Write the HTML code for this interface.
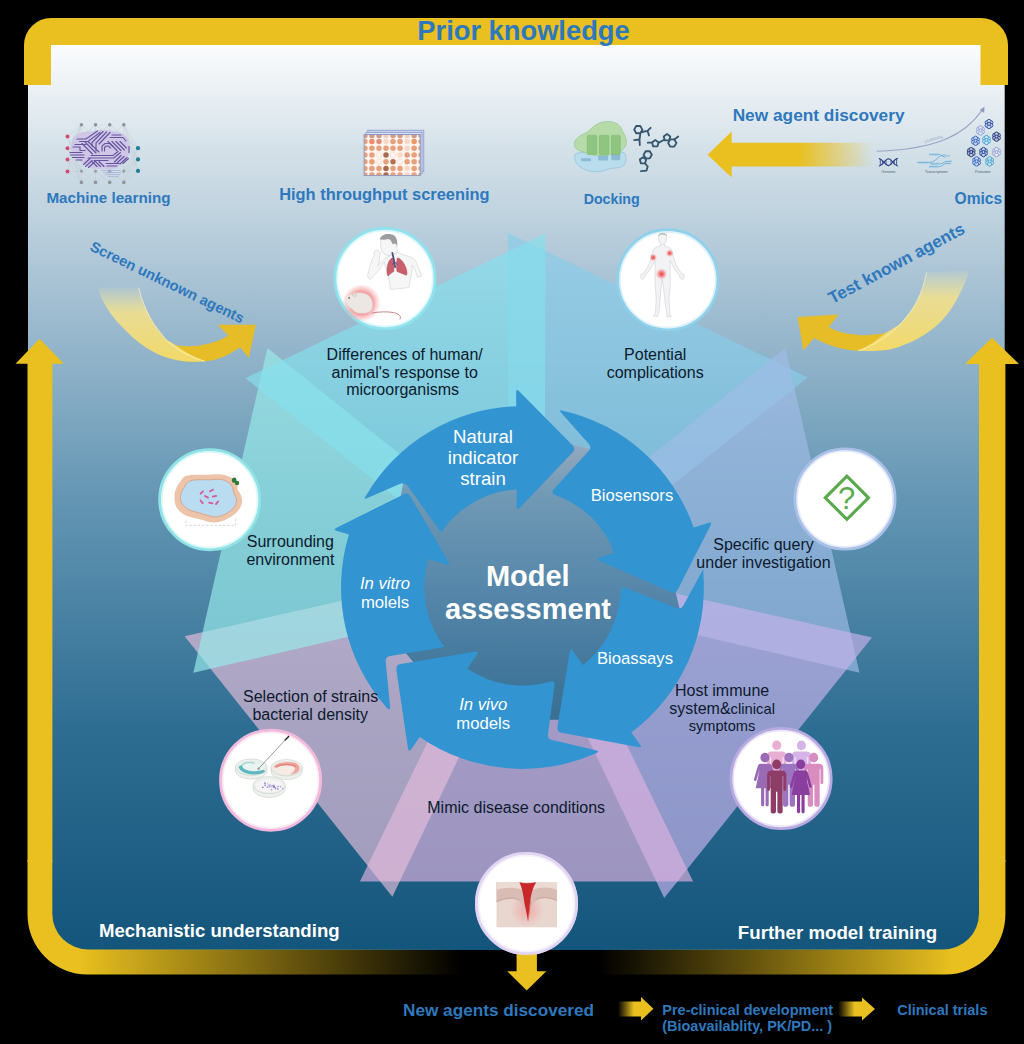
<!DOCTYPE html>
<html><head><meta charset="utf-8"><title>Model assessment</title>
<style>
html,body{margin:0;padding:0;background:#000;}
body{width:1024px;height:1044px;overflow:hidden;}
svg{display:block;}
text{font-family:"Liberation Sans",sans-serif;}
.b{font-weight:bold;}
.i{font-style:italic;}
.blue{fill:#2e78bd;}
.k{fill:#0c1a2c;}
.w{fill:#ffffff;}
</style></head><body>
<svg width="1024" height="1044" viewBox="0 0 1024 1044">
<defs>
<linearGradient id="gPanel" x1="0" y1="45" x2="0" y2="950" gradientUnits="userSpaceOnUse">
<stop offset="0" stop-color="#fbfcfd"/>
<stop offset="0.12" stop-color="#d3e0e8"/>
<stop offset="0.28" stop-color="#a3bfd2"/>
<stop offset="0.5" stop-color="#6496b4"/>
<stop offset="0.75" stop-color="#2f6e93"/>
<stop offset="1" stop-color="#14557b"/>
</linearGradient>
<linearGradient id="gBot" x1="0" y1="0" x2="1024" y2="0" gradientUnits="userSpaceOnUse">
<stop offset="0" stop-color="#e9c01f"/>
<stop offset="0.078" stop-color="#e9c01f"/>
<stop offset="0.45" stop-color="#e9c01f" stop-opacity="0"/>
<stop offset="0.585" stop-color="#e9c01f" stop-opacity="0"/>
<stop offset="0.93" stop-color="#e9c01f"/>
<stop offset="1" stop-color="#e9c01f"/>
</linearGradient>
<linearGradient id="gCenter" x1="0" y1="439" x2="0" y2="739" gradientUnits="userSpaceOnUse">
<stop offset="0" stop-color="#97aabf"/>
<stop offset="0.19" stop-color="#7099b5"/>
<stop offset="0.5" stop-color="#5687aa"/>
<stop offset="0.82" stop-color="#3f7599"/>
<stop offset="1" stop-color="#376b90"/>
</linearGradient>
<linearGradient id="gNew" x1="707" y1="0" x2="874" y2="0" gradientUnits="userSpaceOnUse">
<stop offset="0" stop-color="#e9c01f"/>
<stop offset="0.55" stop-color="#e9c01f"/>
<stop offset="1" stop-color="#e9c01f" stop-opacity="0"/>
</linearGradient>
<linearGradient id="gSm" x1="0" y1="0" x2="1" y2="0">
<stop offset="0" stop-color="#e9c01f" stop-opacity="0"/>
<stop offset="0.45" stop-color="#e9c01f"/>
<stop offset="1" stop-color="#e9c01f"/>
</linearGradient>
<linearGradient id="gCurL" x1="0" y1="285" x2="0" y2="362" gradientUnits="userSpaceOnUse">
<stop offset="0" stop-color="#fff0a0" stop-opacity="0"/>
<stop offset="0.35" stop-color="#f5e28a" stop-opacity="0.85"/>
<stop offset="1" stop-color="#f3d968"/>
</linearGradient>
<linearGradient id="gCurR" x1="0" y1="268" x2="0" y2="352" gradientUnits="userSpaceOnUse">
<stop offset="0" stop-color="#fff0a0" stop-opacity="0"/>
<stop offset="0.35" stop-color="#f5e28a" stop-opacity="0.85"/>
<stop offset="1" stop-color="#f3d968"/>
</linearGradient>
<radialGradient id="gRed"><stop offset="0" stop-color="#ee2a2a" stop-opacity="0.95"/><stop offset="0.5" stop-color="#f06060" stop-opacity="0.6"/><stop offset="1" stop-color="#f8a0a0" stop-opacity="0"/></radialGradient>
</defs>
<rect x="0" y="0" width="1024" height="1044" fill="#000"/>
<path d="M28,45 H1004.7 V915 A36,36 0 0 1 968.7,950 H64 A36,36 0 0 1 28,915 Z" fill="url(#gPanel)"/>
<path d="M24,85 V45 A27,27 0 0 1 51,18 H981 A27,27 0 0 1 1008,45 V85 H980.5 V45 H51 V85 Z" fill="#e9c01f"/>
<path d="M27.5,860 V914.6 A60,60 0 0 0 87.5,974.6 H945.4 A60,60 0 0 0 1005.4,914.6 V860 H979 V913.6 A36,36 0 0 1 943,949.6 H88.3 A36,36 0 0 1 52.3,913.6 V860 Z" fill="url(#gBot)"/>
<path d="M39.6,338.7 L63.8,363.8 H52.4 V862 H27.5 V363.8 H15.5 Z" fill="#e9c01f"/>
<path d="M992,337.7 L1019,364 H1005.4 V862 H979 V364 H965 Z" fill="#e9c01f"/>
<g>
<polygon points="507.8,232.8 808,377.4 509.1,614.1" fill="#87cce9" fill-opacity="0.67"/>
<polygon points="785.4,347.9 859.5,672.7 488,586.6" fill="#9fbce6" fill-opacity="0.67"/>
<polygon points="872,637.5 664.2,898 499.9,553.9" fill="#c7b3eb" fill-opacity="0.67"/>
<polygon points="693.1,881.4 359.9,881.4 526.5,538.4" fill="#dcb2de" fill-opacity="0.67"/>
<polygon points="392.4,896.7 184.6,636.2 556.7,552.6" fill="#e5bdda" fill-opacity="0.67"/>
<polygon points="193.3,672.7 267.4,347.9 564.8,586.6" fill="#98ebea" fill-opacity="0.67"/>
<polygon points="245.4,378.2 545.6,233.6 544.3,614.9" fill="#84e0ed" fill-opacity="0.67"/>
</g>
<g>
<path d="M570.6,444.1 L594.8,450.8 L649.7,508 L674.3,586.4 L680.6,612.9 L633.6,680.7 L564.6,719.8 L543.6,719.8 L463.3,714.4 L418.1,667.8 L403.3,650.3 L382.5,587.5 L399.9,500.4 L404.3,477.1 L483.7,442.6 Z" fill="url(#gCenter)"/>
<path d="M365.8,496 A181.4,181.4 0 0 1 516.2,406.3 L516.1,392.2 Q516.1,388.2 519.6,391.8 L572.5,445.3 Q576,448.9 572.5,452.5 L520.2,507.4 Q516.7,511 516.7,507 L516.6,489.5 A98.2,98.2 0 0 0 443.7,528.9 Q442.2,534 439.3,529.9 L407.6,485.8 Q404.7,481.8 400.1,483.8 L367.4,498.1 Q362.8,500.1 365.8,496 Z" fill="#3294d1"/>
<path d="M562.9,410.7 A181.4,181.4 0 0 1 693.7,527.5 L708.7,522.7 Q712.5,521.5 710.2,526 L677.8,589.5 Q675.6,593.9 671,591.9 L599.9,561 Q595.3,559 599.1,557.7 L614.4,552.9 A98.2,98.2 0 0 0 555.1,494.9 Q550.6,492.6 554,488.9 L588.7,451.1 Q592,447.4 588.7,443.7 L561.4,413 Q558.1,409.2 562.9,410.7 Z" fill="#3294d1"/>
<path d="M703.3,572.6 A181.4,181.4 0 0 1 631.3,732.6 L640.1,744.8 Q642.4,748.1 637.5,747.1 L561.6,732.8 Q556.6,731.9 557.4,727 L569.6,652.5 Q570.4,647.5 572.7,650.8 L582.9,664.9 A98.2,98.2 0 0 0 620.6,591.1 Q621.2,586.1 625.8,588 L676.3,607.9 Q680.9,609.8 683.4,605.4 L701.8,571.8 Q704.2,567.4 703.3,572.6 Z" fill="#3294d1"/>
<path d="M596.1,753.3 A181.4,181.4 0 0 1 419.7,736.9 L411,749.5 Q408.7,752.8 407.9,747.9 L396.4,669.9 Q395.7,664.9 400.6,664.1 L474.6,651.8 Q479.5,651 477.2,654.3 L467.2,668.6 A98.2,98.2 0 0 0 550.5,681.6 Q555.3,680.2 554.6,685.1 L548,734 Q547.3,739 552.2,740.1 L595.8,750.2 Q600.6,751.3 596.1,753.3 Z" fill="#3294d1"/>
<path d="M386.9,708 A181.4,181.4 0 0 1 348.9,534.6 L336.4,530.8 Q332.6,529.6 337.1,527.4 L403.5,494.4 Q408,492.1 410.5,496.5 L448.3,561.6 Q450.8,566 446.9,564.8 L428.4,559.1 A98.2,98.2 0 0 0 442,643.8 Q446.6,646.6 441.7,647.4 L390.2,656 Q385.2,656.8 385.7,661.8 L390.1,706.4 Q390.6,711.4 386.9,708 Z" fill="#3294d1"/>
<text x="483" y="442.5" font-size="18.6" class="w" text-anchor="middle">Natural</text>
<text x="483" y="463.6" font-size="18.6" class="w" text-anchor="middle">indicator</text>
<text x="483" y="484.5" font-size="18.6" class="w" text-anchor="middle">strain</text>
<text x="632" y="501" font-size="16.7" class="w" text-anchor="middle">Biosensors</text>
<text x="635" y="663.6" font-size="16.7" class="w" text-anchor="middle">Bioassays</text>
<text x="385" y="589.2" font-size="16.7" class="w i" text-anchor="middle">In vitro</text>
<text x="385" y="607.7" font-size="16.7" class="w" text-anchor="middle">molels</text>
<text x="483.3" y="709.8" font-size="16.7" class="w i" text-anchor="middle">In vivo</text>
<text x="483.2" y="728.9" font-size="16.7" class="w" text-anchor="middle">models</text>
<text x="527.8" y="585.5" font-size="29" class="w b" text-anchor="middle">Model</text>
<text x="528" y="618.7" font-size="29" class="w b" text-anchor="middle">assessment</text>
</g>
<g>
<circle cx="385" cy="278.5" r="50.1" fill="#fff" stroke="#8fe3ee" stroke-width="2.8"/>
<circle cx="385" cy="278.5" r="47.9" fill="none" stroke="#8fe3ee" stroke-opacity="0.3" stroke-width="1.8"/>
<circle cx="667.8" cy="279.7" r="50.1" fill="#fff" stroke="#8fd0ea" stroke-width="2.8"/>
<circle cx="667.8" cy="279.7" r="47.9" fill="none" stroke="#8fd0ea" stroke-opacity="0.3" stroke-width="1.8"/>
<circle cx="845" cy="499" r="50.1" fill="#fff" stroke="#a9bfe8" stroke-width="2.8"/>
<circle cx="845" cy="499" r="47.9" fill="none" stroke="#a9bfe8" stroke-opacity="0.3" stroke-width="1.8"/>
<circle cx="781.1" cy="778.5" r="50.1" fill="#fff" stroke="#b9a9e2" stroke-width="2.8"/>
<circle cx="781.1" cy="778.5" r="47.9" fill="none" stroke="#b9a9e2" stroke-opacity="0.3" stroke-width="1.8"/>
<circle cx="526.5" cy="903.5" r="50.1" fill="#fff" stroke="#cdb5e8" stroke-width="2.8"/>
<circle cx="526.5" cy="903.5" r="47.9" fill="none" stroke="#cdb5e8" stroke-opacity="0.3" stroke-width="1.8"/>
<circle cx="270.6" cy="780.2" r="50.1" fill="#fff" stroke="#f2b9dc" stroke-width="2.8"/>
<circle cx="270.6" cy="780.2" r="47.9" fill="none" stroke="#f2b9dc" stroke-opacity="0.3" stroke-width="1.8"/>
<circle cx="209.7" cy="499.7" r="50.1" fill="#fff" stroke="#8fe3e6" stroke-width="2.8"/>
<circle cx="209.7" cy="499.7" r="47.9" fill="none" stroke="#8fe3e6" stroke-opacity="0.3" stroke-width="1.8"/>
<g>
<g fill="#f6f6f7" stroke="#d3d5d9" stroke-width="0.7" stroke-linejoin="round">
<path d="M397.5,252.5 C402,254.5 409,256 412.8,258 C416,260 419,268 421.5,276 L417.5,277.5 C416,272 414,267 412,265 C412.5,272 410,280 409,287.5 L390.5,289.5 C390,283 388.5,278 388,272 C386,270 384.5,266 384.5,262 C381,268 376,274 370,279.5 C367.5,278 367,275 368.5,272 C370,266 372,258 374.5,255.5 C373,252 375,249.5 378.5,250.5 C380.5,251.5 380.5,254 379.5,256 C380,259 379,263 378,266 C381,262 385,258 389,256 Z"/>
<path d="M381.5,237.5 C380,242 380.5,246 381.5,250.5 C383.5,254.5 388,256.5 391,255 L397.5,252.5 C397,248 396.5,242 395,238 Z"/>
</g>
<path d="M379.8,239.5 C380.5,235 386,233.2 391,234.2 C396,235 398,240 397.2,246.5 C396.5,244 394.5,242.5 393,244.5 C391.5,242.5 391.5,240 388.5,239 C385,240 382,239.5 379.8,239.5 Z" fill="#9d9d9d"/>
<path d="M392.6,258 C390,258.5 387.5,263 387,269 C386.8,273 387.2,275.5 388.2,276 C390.5,273.5 392.6,272 393.8,271.5 C394.2,267 394,261 392.6,258 Z" fill="#c95f69" stroke="#b04552" stroke-width="0.5"/>
<path d="M397.4,258 C399.5,257.5 404,262 406,268 C407.3,272 407.3,274.5 406.3,275.2 C403,274 399.5,272.2 397,271.5 C396.3,267 396.5,261 397.4,258 Z" fill="#c95f69" stroke="#b04552" stroke-width="0.5"/>
<path d="M392.3,252.8 L394.4,262 L395.1,267.2" fill="none" stroke="#4b4b82" stroke-width="1.7" stroke-linecap="round"/>
<path d="M394.5,262 L392.5,264.5 M394.6,262 L397.5,264.5" fill="none" stroke="#4b4b82" stroke-width="0.9"/>
<radialGradient id="gMouse" cx="361.5" cy="303" r="19.5" gradientUnits="userSpaceOnUse"><stop offset="0" stop-color="#ee6a6a" stop-opacity="0.9"/><stop offset="0.6" stop-color="#f08484" stop-opacity="0.75"/><stop offset="1" stop-color="#f8b0b0" stop-opacity="0"/></radialGradient>
<ellipse cx="361.5" cy="303" rx="19.5" ry="18" fill="url(#gMouse)"/>
<path d="M371.6,313.1 C380,311.5 388,311.5 393.6,312.6 C398,313.6 400.8,315.5 400.4,317.8 C400.2,318.6 400,319 399.9,319.3" fill="none" stroke="#c98787" stroke-width="1"/>
<path d="M345.5,300.5 C345,297 348.5,294.5 352.5,294.5 C356,292 364,292 368.5,295.5 C372.5,298.5 373.5,305 371.5,309.5 C370,312.5 366,313.5 362,313.2 C358,313.5 354,312 352,309 C349,307.5 346,304.5 345.5,300.5 Z" fill="#ece7e3" stroke="#dcd3cf" stroke-width="0.5"/>
<ellipse cx="354.6" cy="295" rx="2.3" ry="1.9" fill="#e3dad6" stroke="#cfc4c0" stroke-width="0.4"/>
<circle cx="349.1" cy="297.9" r="0.8" fill="#54474a"/>
</g>
<g>
<g fill="#f3f3f5" stroke="#cfd0d6" stroke-width="0.6" stroke-linejoin="round">
<path d="M660.5,243.5 L660.3,246 C657,246.8 654.5,247.5 653.3,250 C652,254 651.5,258 650.5,261 C648.5,266 645.5,270.5 643,274 L640.8,274.5 L640.6,276.5 L642,279.5 L644.5,278 L645,275.5 C649,271.5 652,267 654.8,261 C655.3,265 655,270 655,275 C654.5,283 656,292 656.2,299 C656,304 655.6,309 655.6,313 L653.5,316 L657.6,316.6 L658.8,313 C659.5,306 660.2,299 660.8,292 C661,288 661.6,283 662.2,279 C662.8,283 663.6,288 664,292 C664.6,299 665.6,306 666.6,313 L667,316.6 L671.2,316.4 L669.6,313 C669.8,308 669.4,303 669,299 C669.6,292 671,283 670.2,275 C670.2,270 669.8,265 670.2,260.5 C672.5,266 675.5,271 679.5,275.5 L680,278 L682.8,279.6 L684.4,276.6 L684,274.4 L682,274 C679.5,270.5 676.6,266 674.6,261 C673.6,258 673,254 671.6,250 C670.4,247.5 668,246.8 664.8,246 L664.6,243.5 Z"/>
<path d="M658.6,235.6 C658.6,232.5 666.6,232.5 666.6,235.6 C667,239 666.2,244.5 662.6,244.5 C659,244.5 658.2,239 658.6,235.6 Z"/>
</g>
<path d="M658.3,236.6 C658,232.2 667.2,232.2 666.9,236.6 C666,234.8 664.5,234.4 662.6,234.6 C660.7,234.4 659.2,234.8 658.3,236.6 Z" fill="#a9a9ad"/>
<circle cx="653.2" cy="257.5" r="4" fill="url(#gRed)"/>
<circle cx="669.7" cy="253.2" r="4" fill="url(#gRed)"/>
<circle cx="661.5" cy="274" r="6" fill="url(#gRed)"/>
</g>
<g><path d="M846.9,476.2 L868.5,497.8 L846.9,519.4 L825.3,497.8 Z" fill="none" stroke="#5aa94c" stroke-width="3.1" stroke-linejoin="miter"/><text x="846.7" y="509.2" font-size="31" fill="#5aa94c" text-anchor="middle">?</text></g>
<g>
<g fill="#e9aed3" transform="translate(776.7,740.6) scale(0.98,1.0534999999999999)"><circle cx="0" cy="4.6" r="4.6"/><path d="M-5.6,10.4 H5.6 C8.2,10.4 9.8,12 9.8,14.6 V28.2 C9.8,30.2 6.9,30.2 6.9,28.2 V15.6 H6.1 V49.2 C6.1,51.8 1,51.8 0.7,49.2 V30.4 H-0.7 V49.2 C-1,51.8 -6.1,51.8 -6.1,49.2 V15.6 H-6.9 V28.2 C-6.9,30.2 -9.8,30.2 -9.8,28.2 V14.6 C-9.8,12 -8.2,10.4 -5.6,10.4 Z"/></g>
<g fill="#d7b3ea" transform="translate(801.4,740.6) scale(0.98,1.0534999999999999)"><circle cx="0" cy="4.6" r="4.6"/><path d="M-5.6,10.4 H5.6 C8.2,10.4 9.8,12 9.8,14.6 V28.2 C9.8,30.2 6.9,30.2 6.9,28.2 V15.6 H6.1 V49.2 C6.1,51.8 1,51.8 0.7,49.2 V30.4 H-0.7 V49.2 C-1,51.8 -6.1,51.8 -6.1,49.2 V15.6 H-6.9 V28.2 C-6.9,30.2 -9.8,30.2 -9.8,28.2 V14.6 C-9.8,12 -8.2,10.4 -5.6,10.4 Z"/></g>
<g fill="#9a6bb4" transform="translate(764.9,752.8) scale(0.98,1.0534999999999999)"><circle cx="0" cy="4.6" r="4.6"/><path d="M-4.4,10.4 H4.4 C6,10.4 6.8,11.4 7.3,12.8 L11.2,25.2 C11.6,26.6 9.2,27.4 8.7,26 L5.4,15.8 L9.4,33.6 H3.9 V49.2 C3.9,51.4 0.7,51.4 0.7,49.2 V33.6 H-0.7 V49.2 C-0.7,51.4 -3.9,51.4 -3.9,49.2 V33.6 H-9.4 L-5.4,15.8 L-8.7,26 C-9.2,27.4 -11.6,26.6 -11.2,25.2 L-7.3,12.8 C-6.8,11.4 -6,10.4 -4.4,10.4 Z"/></g>
<g fill="#9c74c0" transform="translate(789,752.8) scale(0.98,1.0534999999999999)"><circle cx="0" cy="4.6" r="4.6"/><path d="M-5.6,10.4 H5.6 C8.2,10.4 9.8,12 9.8,14.6 V28.2 C9.8,30.2 6.9,30.2 6.9,28.2 V15.6 H6.1 V49.2 C6.1,51.8 1,51.8 0.7,49.2 V30.4 H-0.7 V49.2 C-1,51.8 -6.1,51.8 -6.1,49.2 V15.6 H-6.9 V28.2 C-6.9,30.2 -9.8,30.2 -9.8,28.2 V14.6 C-9.8,12 -8.2,10.4 -5.6,10.4 Z"/></g>
<g fill="#d98cc0" transform="translate(813.7,752.8) scale(0.98,1.0534999999999999)"><circle cx="0" cy="4.6" r="4.6"/><path d="M-5.6,10.4 H5.6 C8.2,10.4 9.8,12 9.8,14.6 V28.2 C9.8,30.2 6.9,30.2 6.9,28.2 V15.6 H6.1 V49.2 C6.1,51.8 1,51.8 0.7,49.2 V30.4 H-0.7 V49.2 C-1,51.8 -6.1,51.8 -6.1,49.2 V15.6 H-6.9 V28.2 C-6.9,30.2 -9.8,30.2 -9.8,28.2 V14.6 C-9.8,12 -8.2,10.4 -5.6,10.4 Z"/></g>
<g fill="#8e3d66" transform="translate(776.7,759.6) scale(0.98,1.0534999999999999)"><circle cx="0" cy="4.6" r="4.6"/><path d="M-5.6,10.4 H5.6 C8.2,10.4 9.8,12 9.8,14.6 V28.2 C9.8,30.2 6.9,30.2 6.9,28.2 V15.6 H6.1 V49.2 C6.1,51.8 1,51.8 0.7,49.2 V30.4 H-0.7 V49.2 C-1,51.8 -6.1,51.8 -6.1,49.2 V15.6 H-6.9 V28.2 C-6.9,30.2 -9.8,30.2 -9.8,28.2 V14.6 C-9.8,12 -8.2,10.4 -5.6,10.4 Z"/></g>
<g fill="#8a3f9e" transform="translate(800.8,759.6) scale(0.98,1.0534999999999999)"><circle cx="0" cy="4.6" r="4.6"/><path d="M-4.4,10.4 H4.4 C6,10.4 6.8,11.4 7.3,12.8 L11.2,25.2 C11.6,26.6 9.2,27.4 8.7,26 L5.4,15.8 L9.4,33.6 H3.9 V49.2 C3.9,51.4 0.7,51.4 0.7,49.2 V33.6 H-0.7 V49.2 C-0.7,51.4 -3.9,51.4 -3.9,49.2 V33.6 H-9.4 L-5.4,15.8 L-8.7,26 C-9.2,27.4 -11.6,26.6 -11.2,25.2 L-7.3,12.8 C-6.8,11.4 -6,10.4 -4.4,10.4 Z"/></g>
</g>
<g>
<path d="M271,767.8 V771.4 A15.6,8.2 0 0 0 302.2,771.4 V767.8" fill="#eef1ee" stroke="#c6cec6" stroke-width="0.6"/><ellipse cx="286.6" cy="767.8" rx="15.6" ry="8.2" fill="#f3f5f2" stroke="#c3ccc4" stroke-width="0.6"/><ellipse cx="286.6" cy="768.4" rx="14.0" ry="6.8999999999999995" fill="#f7ebe6" stroke="#d0d8d0" stroke-width="0.4"/>
<path d="M273.5,767.5 C276,762.5 286,761 294,762.5 C298.5,763.5 300.5,767 299,770.5 C298,773 294,774 290,774.3 C294,772 296,769.5 294,767 C291,764.5 280,764.5 273.5,767.5 Z" fill="#f0a7a0"/>
<path d="M276,767 C281,764 290,763.6 295.5,766" fill="none" stroke="#e3867f" stroke-width="1.6" stroke-linecap="round"/>
<path d="M235.4,767.2 V770.8 A15.8,8.2 0 0 0 267,770.8 V767.2" fill="#eef1ee" stroke="#c6cec6" stroke-width="0.6"/><ellipse cx="251.2" cy="767.2" rx="15.8" ry="8.2" fill="#f3f5f2" stroke="#c3ccc4" stroke-width="0.6"/><ellipse cx="251.2" cy="767.8" rx="14.200000000000001" ry="6.8999999999999995" fill="#e9f3f2" stroke="#d0d8d0" stroke-width="0.4"/>
<path d="M238.6,766.5 C239,770.5 244,773.5 251,774.3 C257,775 263,774 265.5,771.5 L263.5,769.8 C259,771.6 252,771.5 247.5,770.2 C243.5,769 241.5,767 242.5,764.8 Z" fill="#5fb7c0"/>
<path d="M242.5,764.8 C245,762.6 250,762 254,763" fill="none" stroke="#9fd3d6" stroke-width="1.4" stroke-linecap="round"/>
<path d="M253.2,785.2 V788.8 A16,8.6 0 0 0 285.2,788.8 V785.2" fill="#eef1ee" stroke="#c6cec6" stroke-width="0.6"/><ellipse cx="269.2" cy="785.2" rx="16" ry="8.6" fill="#f3f5f2" stroke="#c3ccc4" stroke-width="0.6"/><ellipse cx="269.2" cy="785.8" rx="14.4" ry="7.3" fill="#f6f5f6" stroke="#d0d8d0" stroke-width="0.4"/>
<circle cx="273.6" cy="786.6" r="0.7" fill="#7a62b8"/>
<circle cx="273.7" cy="786.1" r="0.9" fill="#b9a6e0"/>
<circle cx="273.7" cy="784.8" r="0.6" fill="#b9a6e0"/>
<circle cx="274" cy="786.5" r="0.9" fill="#a48cd4"/>
<circle cx="280.5" cy="786.6" r="0.9" fill="#b9a6e0"/>
<circle cx="274.7" cy="787.6" r="0.5" fill="#b9a6e0"/>
<circle cx="267.7" cy="783.8" r="0.5" fill="#a48cd4"/>
<circle cx="272.5" cy="786.1" r="0.5" fill="#b9a6e0"/>
<circle cx="271.5" cy="789.7" r="0.9" fill="#b9a6e0"/>
<circle cx="269" cy="785.9" r="0.7" fill="#b9a6e0"/>
<circle cx="275.3" cy="787.4" r="0.5" fill="#8e76c8"/>
<circle cx="262.8" cy="787.3" r="0.8" fill="#7a62b8"/>
<circle cx="278" cy="788.9" r="0.7" fill="#8e76c8"/>
<circle cx="275.5" cy="789.3" r="0.5" fill="#b9a6e0"/>
<circle cx="267.5" cy="787.2" r="0.9" fill="#a48cd4"/>
<circle cx="274" cy="786.2" r="0.6" fill="#a48cd4"/>
<circle cx="265.3" cy="783.7" r="0.6" fill="#8e76c8"/>
<circle cx="275.7" cy="788.2" r="0.6" fill="#8e76c8"/>
<circle cx="282.7" cy="788.6" r="0.8" fill="#b9a6e0"/>
<circle cx="273.7" cy="786" r="0.6" fill="#b9a6e0"/>
<circle cx="277.6" cy="788.9" r="0.6" fill="#8e76c8"/>
<circle cx="275.3" cy="788.2" r="0.6" fill="#a48cd4"/>
<circle cx="272.1" cy="785.5" r="0.6" fill="#8e76c8"/>
<circle cx="269.6" cy="786.6" r="0.9" fill="#b9a6e0"/>
<circle cx="269.1" cy="785" r="0.7" fill="#a48cd4"/>
<circle cx="273.7" cy="786.3" r="0.8" fill="#8e76c8"/>
<circle cx="264.7" cy="783" r="0.7" fill="#8e76c8"/>
<circle cx="270.4" cy="785.1" r="0.5" fill="#8e76c8"/>
<circle cx="265.1" cy="785.2" r="0.8" fill="#7a62b8"/>
<circle cx="274.2" cy="787" r="0.7" fill="#7a62b8"/>
<circle cx="278" cy="786.5" r="0.8" fill="#a48cd4"/>
<circle cx="271.4" cy="786.5" r="0.5" fill="#a48cd4"/>
<circle cx="273.4" cy="787.3" r="0.8" fill="#a48cd4"/>
<circle cx="271" cy="786.7" r="0.5" fill="#b9a6e0"/>
<path d="M258.6,768.6 L287.6,737.4" stroke="#58595e" stroke-width="0.6" fill="none"/>
<path d="M285.2,740 L288.6,736.4" stroke="#2a2a2e" stroke-width="1.5" stroke-linecap="round" fill="none"/>
<circle cx="258.5" cy="768.8" r="0.9" fill="none" stroke="#58595e" stroke-width="0.5"/>
</g>
<g>
<path d="M185.5,476 C193,473.5 203,475.5 212,474.5 C219,473.5 226,474.5 231,477.5 C236,480 238,484.5 237.5,489.5 C241.5,494.5 243.5,500.5 241,506 C239,511 234,515.5 228,518.5 C222,522 214,523.5 207,521.5 C200,518.5 192,518.5 185,515 C178,511.5 174,505 174.5,498 C174,491 177.5,485 180.5,481.5 C181.5,479 183.5,477 185.5,476 Z" fill="#edc3a9"/>
<path d="M190,481 C197,478.5 206,480.5 214,479.5 C221,478.5 227,480.5 230.5,484 C233.5,487 233,491 234.5,494.5 C237.5,499 237,504 233.5,508 C229.5,512.5 222.5,516.5 215.5,517 C208.5,516.5 201,513 194,511.5 C187,510 181,505 180.5,499 C180,493 183,489 185,486 C186,483.5 188,482 190,481 Z" fill="#b9dcf0" stroke="#dba58c" stroke-width="1"/>
<rect x="199.2" y="491.6" width="5.2" height="1.8" rx="0.9" fill="#d6579a" transform="rotate(-45 201.8 492.5)"/>
<rect x="208.9" y="489.6" width="5.2" height="1.8" rx="0.9" fill="#d6579a" transform="rotate(-28 211.5 490.5)"/>
<rect x="203.9" y="495.9" width="5.2" height="1.8" rx="0.9" fill="#d6579a" transform="rotate(28 206.5 496.8)"/>
<rect x="211.9" y="495.3" width="5.2" height="1.8" rx="0.9" fill="#d6579a" transform="rotate(-12 214.5 496.2)"/>
<rect x="199" y="500.9" width="5.2" height="1.8" rx="0.9" fill="#d6579a" transform="rotate(52 201.6 501.8)"/>
<rect x="208.2" y="502.1" width="5.2" height="1.8" rx="0.9" fill="#d6579a" transform="rotate(12 210.8 503)"/>
<rect x="214.4" y="501.9" width="5.2" height="1.8" rx="0.9" fill="#d6579a" transform="rotate(-52 217 502.8)"/>
<ellipse cx="234.2" cy="480.2" rx="2.3" ry="2.6" fill="#2f7a3a"/><ellipse cx="237" cy="483" rx="2.2" ry="2.3" fill="#2f7a3a"/>
<path d="M233.5,476.2 L232.6,474.6 M235,476 L235.3,474.4" stroke="#bfc7c2" stroke-width="0.4"/>
<path d="M185.8,520.6 V525.4 H235.6 V518.5" fill="none" stroke="#c9ccd6" stroke-width="0.7" stroke-dasharray="2.4,1.8"/>
</g>
</g>
<g font-size="16" class="k" text-anchor="middle">
<text x="404.7" y="359.7">Differences of human/</text>
<text x="404.7" y="378">animal's response to</text>
<text x="402.6" y="395.2">microorganisms</text>
<text x="655.2" y="359.7">Potential</text>
<text x="655.2" y="377.5">complications</text>
<text x="763.5" y="549.6">Specific query</text>
<text x="763.5" y="567.7">under investigation</text>
<text x="722.1" y="695.5">Host immune</text>
<text x="722.1" y="713.8">system&amp;<tspan font-size="14.8">clinical</tspan></text>
<text x="722" y="730.7" font-size="14.6">symptoms</text>
<text x="516.2" y="812.9">Mimic disease conditions</text>
<text x="290.3" y="547.1">Surrounding</text>
<text x="290.4" y="565.3">environment</text>
<text x="310.6" y="702.3">Selection of strains</text>
<text x="310.2" y="719.8">bacterial density</text>
</g>
<g>
<text x="523.5" y="39.9" font-size="27.3" class="b blue" text-anchor="middle">Prior knowledge</text>
<text x="108.5" y="203.4" font-size="15.2" class="b blue" text-anchor="middle">Machine learning</text>
<text x="384.4" y="199.7" font-size="16.4" class="b blue" text-anchor="middle">High throughput screening</text>
<text x="611.7" y="203.6" font-size="14.2" class="b blue" text-anchor="middle">Docking</text>
<text x="978.4" y="204" font-size="15.6" class="b blue" text-anchor="middle">Omics</text>
<text x="818.6" y="121.2" font-size="17.3" class="b blue" text-anchor="middle">New agent discovery</text>
<path d="M707.5,154.7 L731.7,131.6 V142.8 H874 V166.4 H731.7 V177.6 Z" fill="url(#gNew)"/>
<g>
<g stroke="#c3cbd3" stroke-width="0.5" fill="none">
<path d="M81.4,124.8 V182.4"/>
<path d="M95.5,124.8 V182.4"/>
<path d="M109.7,124.8 V182.4"/>
<path d="M123.8,124.8 V182.4"/>
<path d="M81.4,124.8 L95.5,136.5 M95.5,124.8 L81.4,136.5 M81.4,182.4 L95.5,171.2 M95.5,182.4 L81.4,171.2"/>
<path d="M95.5,124.8 L109.7,136.5 M109.7,124.8 L95.5,136.5 M95.5,182.4 L109.7,171.2 M109.7,182.4 L95.5,171.2"/>
<path d="M109.7,124.8 L123.8,136.5 M123.8,124.8 L109.7,136.5 M109.7,182.4 L123.8,171.2 M123.8,182.4 L109.7,171.2"/>
<path d="M67.5,136.5 L81.4,124.8 M67.5,136.5 L81.4,171.2 M67.5,136.5 L81.4,182.4"/>
<path d="M67.5,148.2 L81.4,124.8 M67.5,148.2 L81.4,171.2 M67.5,148.2 L81.4,182.4"/>
<path d="M67.5,159.4 L81.4,124.8 M67.5,159.4 L81.4,171.2 M67.5,159.4 L81.4,182.4"/>
<path d="M67.5,171.4 L81.4,124.8 M67.5,171.4 L81.4,171.2 M67.5,171.4 L81.4,182.4"/>
<path d="M138,148.2 L123.8,124.8 M138,148.2 L123.8,182.4 M138,148.2 L123.8,136.5 M138,148.2 L123.8,171.2"/>
<path d="M138,159.4 L123.8,124.8 M138,159.4 L123.8,182.4 M138,159.4 L123.8,136.5 M138,159.4 L123.8,171.2"/>
<path d="M138,170.9 L123.8,124.8 M138,170.9 L123.8,182.4 M138,170.9 L123.8,136.5 M138,170.9 L123.8,171.2"/>
</g>
<circle cx="81.4" cy="124.8" r="1.8" fill="#8d959b"/>
<circle cx="81.4" cy="182.4" r="1.8" fill="#8d959b"/>
<circle cx="81.4" cy="171.2" r="1.6" fill="#9aa0ac"/>
<circle cx="95.5" cy="124.8" r="1.8" fill="#8d959b"/>
<circle cx="95.5" cy="182.4" r="1.8" fill="#8d959b"/>
<circle cx="95.5" cy="171.2" r="1.6" fill="#9aa0ac"/>
<circle cx="109.7" cy="124.8" r="1.8" fill="#8d959b"/>
<circle cx="109.7" cy="182.4" r="1.8" fill="#8d959b"/>
<circle cx="109.7" cy="171.2" r="1.6" fill="#9aa0ac"/>
<circle cx="123.8" cy="124.8" r="1.8" fill="#8d959b"/>
<circle cx="123.8" cy="182.4" r="1.8" fill="#8d959b"/>
<circle cx="123.8" cy="171.2" r="1.6" fill="#9aa0ac"/>
<circle cx="123.8" cy="136.5" r="1.7" fill="#8d959b"/><circle cx="81.4" cy="136.5" r="1.7" fill="#8d959b"/>
<path d="M72,141 C73,134 82,131 92,131.5 C100,129 110,129.5 116,132 C124,132 130,138 129.5,146 C131.5,152 128,160 122,163 C118,169 108,170.5 101,168.5 C92,170 84,166 82,162 C74,160 68.5,150 72,141 Z" fill="#cec7e6"/>
<g stroke="#6753a0" stroke-width="1.15" fill="none" stroke-linecap="round">
<path d="M77,139 H86 L97.5,131"/>
<path d="M79.5,141.5 H88 L100,132.5"/>
<path d="M75,144.5 H86"/>
<path d="M73,147 H80 V150.5 H85"/>
<path d="M70,152.5 H82"/>
<path d="M70.5,155 H84"/>
<path d="M72.5,157.5 H84"/>
<path d="M76,160 H82"/>
<path d="M88,141.5 L99,152"/>
<path d="M85,142 L96,153"/>
<path d="M82,143.5 L92.5,154"/>
<path d="M103,131.5 L92,142.5 V146"/>
<path d="M106.5,132 L96,143 V151"/>
<path d="M110,132.5 L99,144"/>
<path d="M110,137.5 H123 L126,141"/>
<path d="M112,135 H121"/>
<path d="M108,141.5 L117,150.5"/>
<path d="M112,141.5 L121,150.5"/>
<path d="M116,141.5 L124.5,150"/>
<path d="M120,141.5 L126.5,148"/>
<path d="M102,151 V146 L105,143.5 H110 L113,146.5"/>
<path d="M104.5,151 V147.5 L106,146 H108.5 L110.5,148"/>
<path d="M91,155.5 H113 L118,151.5"/>
<path d="M88,158 H114 L120.5,152.5"/>
<path d="M94,160.5 H108"/>
<path d="M83.5,164.5 L90,158.5"/>
<path d="M85.5,166.5 L92,160.5"/>
<path d="M88.5,167.5 L95,161.5"/>
<path d="M92,161.5 L97,166.5"/>
<path d="M95.5,161.5 L100.5,166.5"/>
<path d="M99,161.5 L104,166.5"/>
<path d="M117,163 L124,156.5"/>
<path d="M120,164 L127,157.5"/>
<path d="M114.5,162 L121,155.5"/>
<path d="M123,163.5 L128.5,158.5"/>
<path d="M106,163.5 H119"/>
<path d="M107,166 H117"/>
<path d="M129,146.5 V152.5"/>
</g>
<g stroke="#9fa6dc" stroke-width="0.6" fill="none"><path d="M101,170.5 H121 M103,172.5 H121 M106,174.5 H120 M108,176.5 H119"/></g>
<circle cx="67.5" cy="136.5" r="2" fill="#c9506f"/>
<circle cx="67.5" cy="148.2" r="2" fill="#c9506f"/>
<circle cx="67.5" cy="159.4" r="2" fill="#c9506f"/>
<circle cx="67.5" cy="171.4" r="2" fill="#c9506f"/>
<circle cx="138" cy="148.2" r="2.1" fill="#1c7f96"/>
<circle cx="138" cy="159.4" r="2.1" fill="#1c7f96"/>
<circle cx="138" cy="170.9" r="2.1" fill="#1c7f96"/>
</g>
<g>
<rect x="367.8" y="130.2" width="56" height="41.5" fill="#c9d4ee" stroke="#8c9bca" stroke-width="0.8"/>
<rect x="366" y="132.3" width="56" height="41.5" fill="#d5ddf2" stroke="#8c9bca" stroke-width="0.8"/>
<clipPath id="cpPlate"><rect x="364.1" y="134.5" width="56.2" height="41.1"/></clipPath>
<rect x="364.1" y="134.5" width="56.2" height="41.1" fill="#fff4f0"/>
<g clip-path="url(#cpPlate)">
<circle cx="364.9" cy="135.6" r="2.75" fill="#cf9a86"/>
<circle cx="371.9" cy="135.6" r="2.75" fill="#cf9a86"/>
<circle cx="379" cy="135.6" r="2.75" fill="#cf9a86"/>
<circle cx="386" cy="135.6" r="2.75" fill="#e9cfc4"/>
<circle cx="393" cy="135.6" r="2.75" fill="#cf9a86"/>
<circle cx="400" cy="135.6" r="2.75" fill="#cf9a86"/>
<circle cx="407.1" cy="135.6" r="2.75" fill="#e9cfc4"/>
<circle cx="414.1" cy="135.6" r="2.75" fill="#cf9a86"/>
<circle cx="421.1" cy="135.6" r="2.75" fill="#cf9a86"/>
<circle cx="364.9" cy="141.5" r="2.75" fill="#e6a07b"/>
<circle cx="371.9" cy="141.5" r="2.75" fill="#f08a6c"/>
<circle cx="379" cy="141.5" r="2.75" fill="#dd927f"/>
<circle cx="386" cy="141.5" r="2.75" fill="#f8d9c6"/>
<circle cx="393" cy="141.5" r="2.75" fill="#e6a07b"/>
<circle cx="400" cy="141.5" r="2.75" fill="#e6a07b"/>
<circle cx="407.1" cy="141.5" r="2.75" fill="#f8d9c6"/>
<circle cx="414.1" cy="141.5" r="2.75" fill="#e89a68"/>
<circle cx="421.1" cy="141.5" r="2.75" fill="#e6a07b"/>
<circle cx="364.9" cy="148.3" r="2.75" fill="#e6a07b"/>
<circle cx="371.9" cy="148.3" r="2.75" fill="#e6a07b"/>
<circle cx="379" cy="148.3" r="2.75" fill="#e6a07b"/>
<circle cx="386" cy="148.3" r="2.75" fill="#e6a07b"/>
<circle cx="393" cy="148.3" r="2.75" fill="#e6a07b"/>
<circle cx="400" cy="148.3" r="2.75" fill="#e6a07b"/>
<circle cx="407.1" cy="148.3" r="2.75" fill="#f8d9c6"/>
<circle cx="414.1" cy="148.3" r="2.75" fill="#e6a07b"/>
<circle cx="421.1" cy="148.3" r="2.75" fill="#e6a07b"/>
<circle cx="364.9" cy="155" r="2.75" fill="#e6a07b"/>
<circle cx="371.9" cy="155" r="2.75" fill="#e6a07b"/>
<circle cx="379" cy="155" r="2.75" fill="#fff6f1" stroke="#f1c9b4" stroke-width="0.4"/>
<circle cx="386" cy="155" r="2.75" fill="#a86b4d"/>
<circle cx="393" cy="155" r="2.75" fill="#fff6f1" stroke="#f1c9b4" stroke-width="0.4"/>
<circle cx="400" cy="155" r="2.75" fill="#f8d9c6"/>
<circle cx="407.1" cy="155" r="2.75" fill="#dba083"/>
<circle cx="414.1" cy="155" r="2.75" fill="#e6a07b"/>
<circle cx="421.1" cy="155" r="2.75" fill="#e6a07b"/>
<circle cx="364.9" cy="161.8" r="2.75" fill="#e6a07b"/>
<circle cx="371.9" cy="161.8" r="2.75" fill="#e8a070"/>
<circle cx="379" cy="161.8" r="2.75" fill="#fff6f1" stroke="#f1c9b4" stroke-width="0.4"/>
<circle cx="386" cy="161.8" r="2.75" fill="#e6a07b"/>
<circle cx="393" cy="161.8" r="2.75" fill="#b07252"/>
<circle cx="400" cy="161.8" r="2.75" fill="#fff6f1" stroke="#f1c9b4" stroke-width="0.4"/>
<circle cx="407.1" cy="161.8" r="2.75" fill="#e6a07b"/>
<circle cx="414.1" cy="161.8" r="2.75" fill="#e6a07b"/>
<circle cx="421.1" cy="161.8" r="2.75" fill="#e6a07b"/>
<circle cx="364.9" cy="168.4" r="2.75" fill="#e6a07b"/>
<circle cx="371.9" cy="168.4" r="2.75" fill="#e6a07b"/>
<circle cx="379" cy="168.4" r="2.75" fill="#e6a07b"/>
<circle cx="386" cy="168.4" r="2.75" fill="#a86b4d"/>
<circle cx="393" cy="168.4" r="2.75" fill="#e6a07b"/>
<circle cx="400" cy="168.4" r="2.75" fill="#e6a07b"/>
<circle cx="407.1" cy="168.4" r="2.75" fill="#f8d9c6"/>
<circle cx="414.1" cy="168.4" r="2.75" fill="#e6a07b"/>
<circle cx="421.1" cy="168.4" r="2.75" fill="#e6a07b"/>
<circle cx="364.9" cy="175" r="2.75" fill="#e6a07b"/>
<circle cx="371.9" cy="175" r="2.75" fill="#e6a07b"/>
<circle cx="379" cy="175" r="2.75" fill="#e6a07b"/>
<circle cx="386" cy="175" r="2.75" fill="#a86b4d"/>
<circle cx="393" cy="175" r="2.75" fill="#e6a07b"/>
<circle cx="400" cy="175" r="2.75" fill="#e6a07b"/>
<circle cx="407.1" cy="175" r="2.75" fill="#f8d9c6"/>
<circle cx="414.1" cy="175" r="2.75" fill="#e6a07b"/>
<circle cx="421.1" cy="175" r="2.75" fill="#e6a07b"/>
</g>
<rect x="364.1" y="134.5" width="56.2" height="41.1" fill="none" stroke="#8596c4" stroke-width="0.9"/>
</g>
<g>
<path d="M575,154 C573.5,160 577,166 583,168.5 C590,172.5 600,172.5 607,169.5 C612,167.5 618,168.5 622,166.5 C627,163.5 627,156.5 624,152.5 C615,150 585,150 575,154 Z" fill="#b9ddec" stroke="#8cc0da" stroke-width="0.7"/>
<rect x="581" y="158.3" width="10" height="3" rx="0.8" fill="#8bbbd6"/>
<rect x="598.2" y="153" width="9.8" height="7.6" rx="1.2" fill="#8bbbd6"/>
<rect x="611.3" y="153" width="8.9" height="7.3" rx="1.2" fill="#8bbbd6"/>
<path d="M574.5,146 C573,141 578,136 585,133.5 C590,131 593,125 601,122.5 C609,120 618,122 621,128 C622.5,132 626,136 626.4,141 C627,147 622,151.5 615,153.5 C607,156 595,156.5 588,153.5 C583,151.5 576,151 574.5,146 Z" fill="#b7daa9" stroke="#93c78b" stroke-width="0.7"/>
<rect x="587.3" y="135.4" width="9.4" height="19" rx="1" fill="#8ec67f" stroke="#7ab86c" stroke-width="0.6"/>
<rect x="599.4" y="135.4" width="9.4" height="19" rx="1" fill="#8ec67f" stroke="#7ab86c" stroke-width="0.6"/>
<rect x="611.4" y="135.4" width="8.8" height="19" rx="1" fill="#8ec67f" stroke="#7ab86c" stroke-width="0.6"/>
<g fill="none" stroke="#34566f" stroke-width="1.85" stroke-linejoin="round" stroke-linecap="round">
<polygon points="642.4,129.6 640.3,133.2 636.2,133.2 634.2,129.6 636.2,126 640.3,126"/>
<path d="M642,132 L647.5,130.8 L650.6,127.8 M647.5,130.8 L649,135.4 M640.4,133.4 L639.5,139.5 L634.2,140.2 M639.5,139.5 L639.8,145"/>
<polygon points="655.3,140.1 658.6,142.5 657.4,146.4 653.2,146.4 652,142.5"/>
<path d="M651.8,142.6 L647.8,142.7 M658.7,142.6 L663.8,140"/>
<polygon points="667,134.1 670.3,136.5 669.1,140.4 664.9,140.4 663.7,136.5"/>
<polygon points="676.4,143 674.3,146.6 670.2,146.6 668.2,143 670.2,139.4 674.3,139.4"/>
<path d="M674.4,139.4 L678.2,136.6"/>
<polygon points="651.8,154.8 649.8,158.4 645.7,158.4 643.6,154.8 645.7,151.2 649.8,151.2"/>
<polygon points="643,157.2 646.2,159.5 645,163.4 641,163.4 639.8,159.5"/>
<path d="M645,163.4 L647.7,166.5 L646.5,170.6 L641,171.2"/>
</g></g>
<g>
<path d="M876.8,151.3 C900,150.5 925,147.5 945,139.5 C962,132.5 974,122 982.6,109.6" fill="none" stroke="#9ba4c7" stroke-width="1.1"/>
<path d="M984.2,107.2 L983.9,112.4 L980.2,110 Z" fill="#8f98c0" stroke="#8f98c0" stroke-width="0.6"/>
<g transform="translate(925.5,142.6) rotate(-15)"><path d="M0,-2.2 V1 M0,-0.6 H17.6 M17.6,-2.2 V1" stroke="#a6aed0" stroke-width="0.5" fill="none"/><text x="1.6" y="-1.1" font-size="3.1" fill="#a6aed0">Complexity</text></g>
<g fill="none" stroke="#2b3f86" stroke-width="1.1" stroke-linecap="round"><path d="M879.3,158.6 C883,159.5 885,165.5 888.5,165.6 C892,165.5 893.5,158.8 897.6,158.5"/><path d="M879.3,166 C883,165.3 885,159 888.5,158.8 C892,159 893.8,165.6 897.6,166"/><path d="M880.3,159.4 V165.3 M882.6,161 V164 M886,160.6 V164.2 M891,160.4 V164.2 M894.2,160.8 V163.8 M896.6,159.2 V165.2" stroke-width="0.8"/></g>
<text x="888.5" y="172.9" font-size="3.6" fill="#55606e" text-anchor="middle">Genome</text>
<g fill="none" stroke="#5aa9da" stroke-width="0.8"><path d="M917.2,162.3 H930 C936,162.3 938,155 944,155 C947,155 947.5,157.3 950,155.4"/><path d="M929,154.2 H938 C941,154.2 942,157 945.5,157.2"/><path d="M930,164 H939 C943,164 944,161.5 947,161.3 H952"/><path d="M929,166.8 H938.5 C942,166.8 943,163.6 946,163.6 H951"/>
<path d="M919,162.3 v1.6 m1.8,-1.6 v1.6 m1.8,-1.6 v1.6 m1.8,-1.6 v1.6 m1.8,-1.6 v1.6 m1.8,-1.6 v1.6 M930,154.2 v1.6 m1.8,-1.6 v1.6 m1.8,-1.6 v1.6 m1.8,-1.6 v1.6 m1.8,-1.6 v1.6 M931,164 v-1.5 m1.8,1.5 v-1.5 m1.8,1.5 v-1.5 m1.8,1.5 v-1.5 m1.8,1.5 v-1.5 M930,166.8 v-1.4 m1.8,1.4 v-1.4 m1.8,1.4 v-1.4 m1.8,1.4 v-1.4 m1.8,1.4 v-1.4 M946,161.3 v1.4 m1.8,-1.4 v1.4 m1.8,-1.4 v1.4" stroke-width="0.45"/></g>
<text x="936.3" y="172.9" font-size="3.6" fill="#55606e" text-anchor="middle">Transcriptome</text>
<g fill="#c9d6f2" stroke="#2a4c9c" stroke-width="0.85"><circle cx="987.1" cy="122.6" r="2.0"/><circle cx="990.9" cy="122.6" r="2.0"/><circle cx="987.1" cy="125.4" r="2.0"/><circle cx="990.9" cy="125.4" r="2.0"/><circle cx="989" cy="121.3" r="2.0"/><circle cx="989" cy="126.7" r="2.0"/><circle cx="989" cy="123.9" r="1.5"/></g>
<g fill="#e6eaf8" stroke="#8a9ad6" stroke-width="0.85"><circle cx="978.6" cy="129.1" r="2.0"/><circle cx="982.4" cy="129.1" r="2.0"/><circle cx="978.6" cy="131.9" r="2.0"/><circle cx="982.4" cy="131.9" r="2.0"/><circle cx="980.5" cy="127.8" r="2.0"/><circle cx="980.5" cy="133.2" r="2.0"/><circle cx="980.5" cy="130.4" r="1.5"/></g>
<g fill="#b9c3e2" stroke="#1c2c6c" stroke-width="0.85"><circle cx="994.6" cy="135.3" r="2.0"/><circle cx="998.4" cy="135.3" r="2.0"/><circle cx="994.6" cy="138.1" r="2.0"/><circle cx="998.4" cy="138.1" r="2.0"/><circle cx="996.5" cy="134" r="2.0"/><circle cx="996.5" cy="139.4" r="2.0"/><circle cx="996.5" cy="136.6" r="1.5"/></g>
<g fill="#c5d6f4" stroke="#2c5cb8" stroke-width="0.85"><circle cx="973.6" cy="139.4" r="2.0"/><circle cx="977.4" cy="139.4" r="2.0"/><circle cx="973.6" cy="142.2" r="2.0"/><circle cx="977.4" cy="142.2" r="2.0"/><circle cx="975.5" cy="138.1" r="2.0"/><circle cx="975.5" cy="143.5" r="2.0"/><circle cx="975.5" cy="140.7" r="1.5"/></g>
<g fill="#c8e6f4" stroke="#3c9cd0" stroke-width="0.85"><circle cx="984.6" cy="138.6" r="2.0"/><circle cx="988.4" cy="138.6" r="2.0"/><circle cx="984.6" cy="141.4" r="2.0"/><circle cx="988.4" cy="141.4" r="2.0"/><circle cx="986.5" cy="137.3" r="2.0"/><circle cx="986.5" cy="142.7" r="2.0"/><circle cx="986.5" cy="139.9" r="1.5"/></g>
<g fill="#b9c3e2" stroke="#1c2c6c" stroke-width="0.85"><circle cx="969.3" cy="150.7" r="2.0"/><circle cx="973.1" cy="150.7" r="2.0"/><circle cx="969.3" cy="153.5" r="2.0"/><circle cx="973.1" cy="153.5" r="2.0"/><circle cx="971.2" cy="149.4" r="2.0"/><circle cx="971.2" cy="154.8" r="2.0"/><circle cx="971.2" cy="152" r="1.5"/></g>
<g fill="#bccbeb" stroke="#1c3c8c" stroke-width="0.85"><circle cx="981.6" cy="150.7" r="2.0"/><circle cx="985.4" cy="150.7" r="2.0"/><circle cx="981.6" cy="153.5" r="2.0"/><circle cx="985.4" cy="153.5" r="2.0"/><circle cx="983.5" cy="149.4" r="2.0"/><circle cx="983.5" cy="154.8" r="2.0"/><circle cx="983.5" cy="152" r="1.5"/></g>
<g fill="#e6eaf8" stroke="#8c9cd0" stroke-width="0.85"><circle cx="994.6" cy="150.7" r="2.0"/><circle cx="998.4" cy="150.7" r="2.0"/><circle cx="994.6" cy="153.5" r="2.0"/><circle cx="998.4" cy="153.5" r="2.0"/><circle cx="996.5" cy="149.4" r="2.0"/><circle cx="996.5" cy="154.8" r="2.0"/><circle cx="996.5" cy="152" r="1.5"/></g>
<g fill="#c5d6f4" stroke="#2c5cb8" stroke-width="0.85"><circle cx="974.7" cy="160" r="2.0"/><circle cx="978.5" cy="160" r="2.0"/><circle cx="974.7" cy="162.8" r="2.0"/><circle cx="978.5" cy="162.8" r="2.0"/><circle cx="976.6" cy="158.7" r="2.0"/><circle cx="976.6" cy="164.1" r="2.0"/><circle cx="976.6" cy="161.3" r="1.5"/></g>
<g fill="#c8e6f4" stroke="#3c9cc8" stroke-width="0.85"><circle cx="987.7" cy="160" r="2.0"/><circle cx="991.5" cy="160" r="2.0"/><circle cx="987.7" cy="162.8" r="2.0"/><circle cx="991.5" cy="162.8" r="2.0"/><circle cx="989.6" cy="158.7" r="2.0"/><circle cx="989.6" cy="164.1" r="2.0"/><circle cx="989.6" cy="161.3" r="1.5"/></g>
<text x="982.8" y="172.9" font-size="3.6" fill="#55606e" text-anchor="middle">Proteome</text>
</g>
</g>
<g>
<path d="M175.7,345.2 C185,346.5 193,346.5 201.1,345.2 C212,343.5 221,340 228.4,335.5 L217.7,324.7 L255.8,324.7 L248.9,357.9 L240.2,347.2 C229,355 217,360.5 205,361.3 C196,361.9 188,361.6 181.6,360.9 Z" fill="#e6bd27"/>
<path d="M97.6,287.6 C101,300 109,313 119,323.8 C127.5,333 137,342 148.4,349.1 C159,355.6 170,359.5 181.6,360.9 C190,361.9 198,361.8 205,361.3 C192,356 184,351 175.7,345.2 C170,341.2 167.5,340.5 165.9,339.4 C159,331 154,325 150.3,317.9 C145,308 141,298 138.6,287.6 Z" fill="url(#gCurL)"/>
<path d="M138.6,287.6 C141,298 145,308 150.3,317.9 C154,325 159,331 165.9,339.4 C172,346 186,356 205,361.3" fill="none" stroke="#fff6c8" stroke-opacity="0.75" stroke-width="0.9"/>
<text transform="translate(89,250) rotate(25.8)" font-size="14.7" class="b blue">Screen unknown agents</text>
<path d="M885.5,333 C876,334.8 867,335.6 858.1,335 C847,334.2 837,331.5 828.8,327.2 L838.6,314.5 L797.6,317 L803.4,350.6 L814.2,337.9 C828,345.5 843,350 858.1,350.8 C869,351.3 880,350.8 889.4,349.6 Z" fill="#e6bd27"/>
<path d="M969.5,270.5 C965,284 959.5,296 951.9,307.7 C943.5,320.5 933,330 920.6,337 C910,343 900,347 889.4,349.6 C880,351 869,351.4 858.1,350.8 C868,346.5 877,340 885.5,333 C891.5,329.5 896.5,326.5 901.1,323.3 C907.5,316 912.5,309.5 916.7,301.8 C921.5,292.5 924.5,283 926.5,272.5 Z" fill="url(#gCurR)"/>
<path d="M926.5,272.5 C924.5,283 921.5,292.5 916.7,301.8 C912.5,309.5 907.5,316 901.1,323.3 C893,332 877,345 858.1,350.8" fill="none" stroke="#fff6c8" stroke-opacity="0.75" stroke-width="0.9"/>
<text transform="translate(832.3,304.2) rotate(-28.2)" font-size="17" class="b blue">Test known agents</text>
</g>
<g>
<path d="M516.6,950 H536.9 V971.3 H546.3 L526.7,990.6 L507.2,971.3 H516.6 Z" fill="#e9c01f"/>
<circle cx="526.5" cy="903.5" r="50.1" fill="#fff" stroke="#e2d4f3" stroke-width="2.8"/>
<circle cx="526.5" cy="903.5" r="47.9" fill="none" stroke="#e2d4f3" stroke-opacity="0.3" stroke-width="1.8"/>
<g>
<clipPath id="cpW"><rect x="496.3" y="881.9" width="60.9" height="45.7"/></clipPath>
<g clip-path="url(#cpW)">
<rect x="496.3" y="881.9" width="60.9" height="45.7" fill="#e9d6cf"/>
<radialGradient id="gW" cx="527" cy="910" r="17" gradientUnits="userSpaceOnUse"><stop offset="0" stop-color="#f0a0a0" stop-opacity="0.8"/><stop offset="1" stop-color="#f0a0a0" stop-opacity="0"/></radialGradient>
<ellipse cx="527" cy="908" rx="16" ry="19" fill="url(#gW)"/>
<path d="M496.3,881.9 H557.2 V901.5 C548,897 540,897.5 535.5,901 C533,903 531.5,908 530,912 L524.5,912 C523.5,907.5 522,903 519,901 C514,897.5 505,898.5 496.3,902.5 Z" fill="#d9bcb4"/>
<path d="M496.3,881.9 H557.2 V890 C548,886.5 540,887 534,889.5 L521,889.5 C514,887 505,887 496.3,890 Z" fill="#eadbd5"/>
<path d="M496.3,901.6 C505,897.6 514,896.8 519,900 M557.2,900.6 C548,896.4 540,896.6 535.5,900" fill="none" stroke="#bfa69e" stroke-width="0.8"/>
</g>
<path d="M519.3,882.2 C524,883.6 530,883.6 536.2,882.2 C533,887 531.6,893 530.4,899 C529.6,905 529.4,910 528,921.5 C527,915 526,910 524.6,904 C523.4,896 522.4,888 519.3,882.2 Z" fill="#c8282a"/>
<path d="M528,921.5 C528.6,912 529,905 531,897 C530.4,903 530.8,909 528,921.5 Z" fill="#e05a50"/>
</g>
<text x="98.9" y="936.7" font-size="18.6" class="b w">Mechanistic understanding</text>
<text x="737.8" y="938.7" font-size="18.7" class="b w">Further model training</text>
<text x="403" y="1016" font-size="17.2" class="b blue">New agents discovered</text>
<text x="662.3" y="1014.5" font-size="14.5" class="b blue">Pre-clinical development</text>
<text x="662.3" y="1031" font-size="14.45" class="b blue">(Bioavailablity, PK/PD... )</text>
<text x="897.2" y="1015" font-size="14.5" class="b blue">Clinical trials</text>
<path d="M618,1001.6 H641 V997 L653.4,1008.8 L641,1020.6 V1016.6 H618 Z" fill="url(#gSm)"/>
<path d="M838,1001.6 H862 V997.6 L875,1009 L862,1020.4 V1016.4 H838 Z" fill="url(#gSm)"/>
</g>
</svg></body></html>
